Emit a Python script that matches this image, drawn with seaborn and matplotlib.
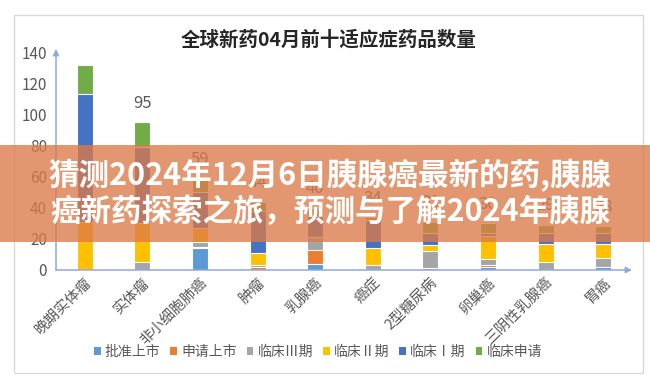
import matplotlib
matplotlib.use("Agg")
import matplotlib.pyplot as plt
from matplotlib.patches import Rectangle, Patch
import numpy as np
import seaborn as sns

# ---------------- data ----------------
categories = ["晚期实体瘤", "实体瘤", "非小细胞肺癌", "肿瘤", "乳腺癌",
              "癌症", "2型糖尿病", "卵巢癌", "三阴性乳腺癌", "胃癌"]
phases = ["批准上市", "申请上市", "临床Ⅲ期", "临床Ⅱ期", "临床Ⅰ期", "临床申请"]
approved   = [0, 0, 14, 0, 4, 0, 0, 2, 0, 2]
filed      = [0, 0, 1, 2, 9, 0, 1, 1, 0, 0]
phase3     = [0, 5, 3, 1, 8, 3, 11, 4, 5, 6]
phase2     = [31, 25, 9, 8, 0, 11, 4, 15, 12, 9]
phase1     = [82, 49, 23, 27, 14, 18, 8, 2, 7, 7]
ind_filing = [19, 16, 9, 6, 5, 2, 7, 6, 5, 4]
yticks = [0, 20, 40, 60, 80, 100, 120, 140]

title = "全球新药04月前十适应症药品数量"
banner_lines = ["猜测2024年12月6日胰腺癌最新的药,胰腺",
                "癌新药探索之旅，预测与了解2024年胰腺"]

colors = ["#5B9BD5", "#ED7D31", "#A5A5A5", "#FFC000", "#4472C4", "#70AD47"]

# ---------------- style ----------------
sns.set_style("white")
plt.rcParams["font.family"] = ["Noto Sans CJK SC", "DejaVu Sans"]

W, H = 650, 387
fig = plt.figure(figsize=(W / 100, H / 100), dpi=100)
fig.patch.set_facecolor("white")

# chart frame
fig.add_artist(Rectangle((14 / W, 1 - 373 / H), 629 / W, 358 / H, fill=False,
                         edgecolor="#D9D9D9", lw=1, transform=fig.transFigure, zorder=0.5))

ax = fig.add_axes([56 / W, (H - 270) / H, 576 / W, (270 - 49) / H])
ax.set_facecolor("none")

series = np.array([approved, filed, phase3, phase2, phase1, ind_filing])
cum = np.cumsum(series, axis=0)
for i in range(len(phases) - 1, -1, -1):
    sns.barplot(x=categories, y=cum[i], order=categories, color=colors[i],
                saturation=1, width=0.28, edgecolor="white", linewidth=0.8,
                errorbar=None, ax=ax)

totals = cum[-1]
for i in range(1, len(categories)):
    ax.annotate(str(int(totals[i])), xy=(i, totals[i]), xytext=(0, 10.5),
                textcoords="offset points", ha="center", va="baseline",
                fontsize=12, color="#595959")

ax.set_xlim(-0.5, len(categories) - 0.5)
ax.set_ylim(0, 142)
ax.set_yticks(yticks)
ax.set_yticklabels([str(v) for v in yticks])
ax.tick_params(axis="y", length=0, pad=6.5, labelsize=11, labelcolor="#595959")
ax.set_xticks(range(len(categories)))
ax.set_xticklabels(categories, rotation=45, ha="right", va="top",
                   rotation_mode="anchor", fontsize=10.5, color="#595959")
ax.tick_params(axis="x", length=0, pad=4)
ax.set_xlabel("")
ax.set_ylabel("")
for s in ax.spines.values():
    s.set_visible(False)

axc = "#8FAADC"
arrow_kw = dict(arrowstyle="-|>", color=axc, lw=1.1, mutation_scale=9,
                shrinkA=0, shrinkB=0)
ax.annotate("", xy=(0, 1), xytext=(0, 0), xycoords="axes fraction",
            arrowprops=arrow_kw, zorder=20, annotation_clip=False)
ax.annotate("", xy=(1, 0), xytext=(0, 0), xycoords="axes fraction",
            arrowprops=arrow_kw, zorder=20, annotation_clip=False)

# title
fig.text(329 / W, 1 - 40 / H, title, ha="center", va="center",
         fontsize=14, fontweight="bold", color="#262626")

# legend
handles = [Patch(facecolor=c, edgecolor="none") for c in colors]
fig.legend(handles, phases, loc="center", bbox_to_anchor=(318 / W, 1 - 352 / H),
           ncol=6, frameon=False, handlelength=0.5, handleheight=0.5,
           handletextpad=0.3, columnspacing=0.7, fontsize=10,
           labelcolor="#595959")

# overlay banner
fig.add_artist(Rectangle((0, 1 - 242 / H), 1, 97 / H, transform=fig.transFigure,
                         facecolor=(220 / 255, 122 / 255, 72 / 255), alpha=0.78,
                         edgecolor="none", zorder=10))
fig.text(330 / W, 1 - 176 / H, banner_lines[0], ha="center", va="center",
         fontsize=22, fontweight="bold", color="white", zorder=11)
fig.text(330 / W, 1 - 212 / H, banner_lines[1], ha="center", va="center",
         fontsize=22, fontweight="bold", color="white", zorder=11)

fig.savefig("out.png", dpi=100)
